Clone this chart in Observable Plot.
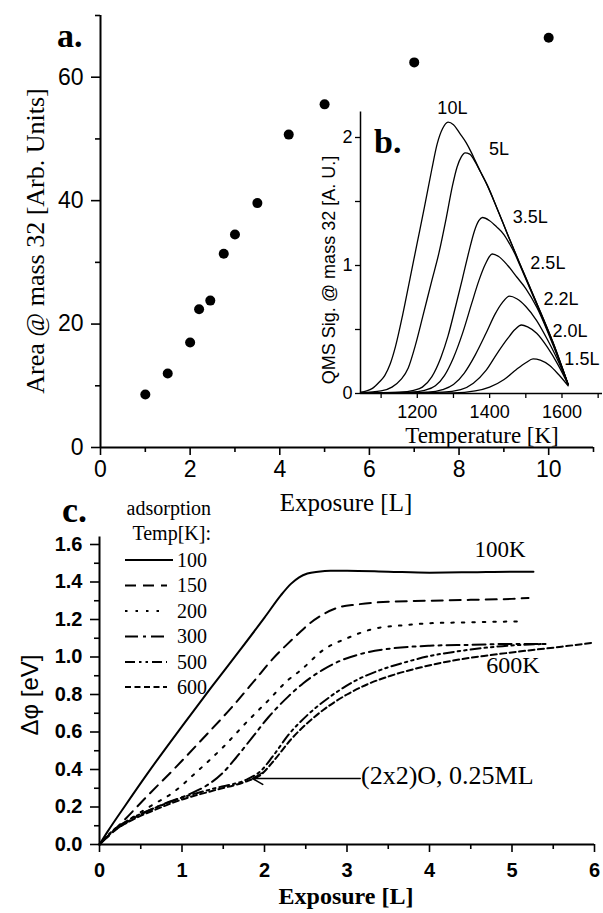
<!DOCTYPE html>
<html><head><meta charset="utf-8">
<script src="https://cdn.jsdelivr.net/npm/d3@7"></script>
<script src="https://cdn.jsdelivr.net/npm/@observablehq/plot@0.6"></script>
<style>
body{margin:0;background:#fff;}
#wrap{position:relative;width:603px;height:913px;overflow:hidden;background:#fff;}
#wrap > svg, #wrap > div{position:absolute;}
</style></head><body><div id="wrap"></div>
<script>
const SANS = "'Liberation Sans', Arial, Helvetica, sans-serif";
const SERIF = "'Liberation Serif', 'Times New Roman', Times, serif";

// ---------- Panel a: desorption area vs exposure ----------
const exposureA = [1, 1.5, 2, 2.2, 2.45, 2.75, 3, 3.5, 4.2, 5, 7, 10];
const areaA = [8.6, 12.0, 17.0, 22.4, 23.8, 31.4, 34.5, 39.6, 50.7, 55.6, 62.4, 66.4];
const aXTicks = [0, 2, 4, 6, 8, 10];
const aXMinor = [1, 3, 5, 7, 9, 11];
const aYTicks = [0, 20, 40, 60];
const aYMinor = [10, 30, 50, 70];

// ---------- Panel b: TPD spectra (T [K], signal) ----------
const tpdNames = ["10L", "5L", "3.5L", "2.5L", "2.2L", "2.0L", "1.5L"];
const tpd10 = [[1043,0.01],[1060,0.02],[1076,0.04],[1095,0.09],[1110,0.14],[1125,0.23],[1140,0.37],[1160,0.62],[1180,0.9],[1200,1.18],[1220,1.46],[1240,1.75],[1255,1.95],[1270,2.07],[1285,2.12],[1300,2.1],[1318,2.03],[1335,1.96],[1350,1.88],[1360,1.82],[1375,1.73],[1393,1.63],[1420,1.45],[1450,1.24],[1484,1.01],[1531,0.70],[1575,0.40],[1617,0.07]];
const tpd5 = [[1043,0.005],[1100,0.02],[1130,0.05],[1155,0.11],[1175,0.2],[1195,0.38],[1215,0.6],[1240,0.88],[1260,1.1],[1280,1.37],[1297,1.62],[1310,1.77],[1322,1.85],[1332,1.88],[1345,1.87],[1360,1.81],[1375,1.73],[1393,1.63],[1420,1.45],[1450,1.24],[1484,1.01],[1531,0.70],[1575,0.40],[1617,0.07]];
const tpd35 = [[1043,0.003],[1150,0.01],[1190,0.025],[1214,0.05],[1240,0.13],[1265,0.28],[1285,0.45],[1305,0.67],[1325,0.9],[1342,1.1],[1358,1.27],[1370,1.35],[1380,1.375],[1400,1.35],[1420,1.3],[1440,1.24],[1455,1.17],[1470,1.09],[1484,1.0],[1531,0.69],[1575,0.39],[1617,0.07]];
const tpd25 = [[1043,0.002],[1180,0.01],[1220,0.025],[1250,0.06],[1275,0.14],[1300,0.28],[1325,0.47],[1350,0.7],[1370,0.88],[1388,1.01],[1407,1.09],[1425,1.07],[1450,1.0],[1475,0.91],[1500,0.82],[1531,0.67],[1575,0.38],[1617,0.07]];
const tpd22 = [[1043,0.002],[1230,0.01],[1270,0.03],[1300,0.07],[1330,0.16],[1360,0.3],[1390,0.47],[1415,0.62],[1435,0.71],[1455,0.76],[1475,0.74],[1500,0.68],[1530,0.57],[1560,0.42],[1590,0.25],[1617,0.07]];
const tpd20 = [[1043,0.002],[1270,0.01],[1320,0.03],[1355,0.08],[1390,0.18],[1420,0.31],[1450,0.43],[1470,0.5],[1488,0.535],[1505,0.52],[1530,0.47],[1560,0.36],[1590,0.22],[1617,0.07]];
const tpd15 = [[1043,0.002],[1300,0.005],[1360,0.02],[1400,0.05],[1440,0.11],[1475,0.19],[1500,0.24],[1520,0.27],[1540,0.26],[1565,0.22],[1590,0.15],[1617,0.06]];
const tpdCurves = [tpd10, tpd5, tpd35, tpd25, tpd22, tpd20, tpd15];
const tpdLabelT = [1297, 1426, 1512, 1561, 1597, 1622, 1655];
const tpdLabelS = [2.23, 1.91, 1.38, 1.02, 0.74, 0.49, 0.27];
const bXTicks = [1200, 1400, 1600];
const bXMinor = [1100, 1300, 1500, 1700];
const bYTicks = [0, 1, 2];
const bYMinor = [0.5, 1.5];

// ---------- Panel c: work function change vs exposure ----------
const cTemps = ["100", "150", "200", "300", "500", "600"];
const c100x = [0,0.1,0.3,0.6,1.0,1.35,1.7,2.0,2.2,2.32,2.42,2.52,2.65,2.8,3.0,3.5,4.0,4.5,5.0,5.26];
const c100y = [0,0.07,0.2,0.39,0.63,0.835,1.035,1.21,1.33,1.39,1.425,1.445,1.455,1.46,1.46,1.455,1.45,1.452,1.455,1.455];
const c150x = [0,0.15,0.3,0.56,0.92,1.285,1.6,1.89,2.1,2.28,2.4,2.55,2.72,2.9,3.12,3.5,4.0,4.5,5.0,5.2];
const c150y = [0,0.065,0.13,0.25,0.41,0.58,0.73,0.88,0.99,1.07,1.12,1.18,1.23,1.265,1.28,1.295,1.3,1.305,1.31,1.315];
const c200x = [0,0.2,0.6,0.9,1.16,1.5,1.8,2.05,2.28,2.44,2.72,3.0,3.32,3.7,4.0,4.5,5.07];
const c200y = [0,0.08,0.2,0.28,0.38,0.52,0.66,0.77,0.875,0.93,1.04,1.1,1.15,1.17,1.18,1.185,1.19];
const c300x = [0,0.2,0.5,0.8,1.1,1.3,1.49,1.65,1.85,2.05,2.29,2.47,2.7,2.92,3.2,3.53,4.0,4.5,5.0,5.43];
const c300y = [0,0.08,0.16,0.22,0.27,0.315,0.38,0.46,0.57,0.68,0.79,0.86,0.93,0.98,1.02,1.045,1.06,1.065,1.07,1.07];
const c500x = [0,0.15,0.35,0.7,1.0,1.4,1.8,1.95,2.1,2.3,2.52,2.8,3.13,3.4,3.73,4.0,4.34,4.8,5.4];
const c500y = [0,0.07,0.13,0.2,0.25,0.3,0.35,0.39,0.47,0.59,0.69,0.79,0.88,0.93,0.975,1.005,1.03,1.055,1.07];
const c600x = [0,0.15,0.35,0.7,1.0,1.4,1.8,1.95,2.1,2.32,2.5,2.72,3.0,3.25,3.53,3.9,4.34,4.74,5.2,5.6,6.0];
const c600y = [0,0.065,0.12,0.19,0.24,0.29,0.34,0.37,0.44,0.56,0.64,0.72,0.8,0.855,0.9,0.945,0.985,1.01,1.035,1.055,1.077];
const cXs = [c100x, c150x, c200x, c300x, c500x, c600x];
const cYs = [c100y, c150y, c200y, c300y, c500y, c600y];
const cXTicks = [0, 1, 2, 3, 4, 5, 6];
const cXMinor = [0.5, 1.5, 2.5, 3.5, 4.5, 5.5];
const cYTicks = [0, 0.2, 0.4, 0.6, 0.8, 1.0, 1.2, 1.4, 1.6];
const cYMinor = [0.1, 0.3, 0.5, 0.7, 0.9, 1.1, 1.3, 1.5];
const arrowFromX = [3.16], arrowToX = [1.855], arrowAtY = [0.352];

// style only
const dashes = {"100": null, "150": "11,7", "200": "2.5,8", "300": "13,5,3,5", "500": "10,4,2.5,4,2.5,4", "600": "6,3.5"};

const wrap = document.getElementById("wrap");
function place(el, left, top) { el.style.left = left + "px"; el.style.top = top + "px"; wrap.appendChild(el); }

// ----- Panel a -----
const ptsA = exposureA.map((x, i) => ({x, y: areaA[i]}));
const pa = Plot.plot({
  width: 603, height: 510,
  marginLeft: 100, marginRight: 10, marginTop: 15, marginBottom: 63,
  x: {domain: [0, 11], label: null}, y: {domain: [0, 70], label: null},
  style: {fontFamily: SANS, fontSize: "23px", color: "black", background: "transparent", overflow: "visible"},
  marks: [
    Plot.axisY({ticks: aYTicks, tickSize: 9, tickPadding: 8, label: null, strokeWidth: 1.6}),
    Plot.axisY({ticks: aYMinor, tickSize: 5, tickFormat: () => "", label: null, strokeWidth: 1.6}),
    Plot.axisX({ticks: aXTicks, tickSize: 8, tickPadding: 5, label: null, strokeWidth: 1.6}),
    Plot.axisX({ticks: aXMinor, tickSize: 5, tickFormat: () => "", label: null, strokeWidth: 1.6}),
    Plot.ruleY([0], {strokeWidth: 2}),
    Plot.ruleX([0], {strokeWidth: 2}),
    Plot.dot(ptsA, {x: "x", y: "y", r: 5, fill: "black"})
  ]
});
place(pa, 0, 0);

// ----- Panel b (inset) -----
const tpdData = tpdCurves.flatMap((c, k) => c.map(([t, s]) => ({t, s, name: tpdNames[k]})));
const tpdLab = tpdNames.map((n, i) => ({t: tpdLabelT[i], s: tpdLabelS[i], n}));
const pb = Plot.plot({
  width: 323, height: 360,
  marginLeft: 80, marginRight: 1, marginTop: 16.4, marginBottom: 62,
  x: {domain: [1043, 1712], label: null}, y: {domain: [0, 2.2], label: null},
  style: {fontFamily: SANS, fontSize: "18px", color: "black", background: "transparent", overflow: "visible"},
  marks: [
    Plot.axisY({ticks: bYTicks, tickSize: 5, tickPadding: 3, tickFormat: d3.format("d"), label: null, strokeWidth: 1.3}),
    Plot.axisY({ticks: bYMinor, tickSize: 5, tickFormat: () => "", label: null, strokeWidth: 1.3}),
    Plot.axisX({ticks: bXTicks, tickSize: 5, tickPadding: 7, tickFormat: d3.format("d"), label: null, strokeWidth: 1.3}),
    Plot.axisX({ticks: bXMinor, tickSize: 5, tickFormat: () => "", label: null, strokeWidth: 1.3}),
    Plot.ruleY([0], {strokeWidth: 1.5}),
    Plot.ruleX([1043], {strokeWidth: 1.5}),
    Plot.line(tpdData, {x: "t", y: "s", z: "name", stroke: "black", strokeWidth: 1.3, curve: "monotone-x"}),
    Plot.text(tpdLab, {x: "t", y: "s", text: "n", fontSize: 18, fontFamily: SANS, fill: "black"})
  ]
});
place(pb, 280, 95);

// ----- Panel c -----
const cMarks = cTemps.map((T, k) => Plot.line(cXs[k].map((x, i) => ({x, y: cYs[k][i]})), {
  x: "x", y: "y", stroke: "black", strokeWidth: 2, strokeDasharray: dashes[T], curve: "monotone-x"
}));
const arrowData = arrowFromX.map((x1, i) => ({x1, x2: arrowToX[i], y: arrowAtY[i]}));
const pc = Plot.plot({
  width: 603, height: 408,
  marginLeft: 99, marginRight: 9, marginTop: 31.5, marginBottom: 69,
  x: {domain: [0, 6], label: null}, y: {domain: [0, 1.64], label: null},
  style: {fontFamily: SANS, fontSize: "20px", fontWeight: "bold", color: "black", background: "transparent", overflow: "visible"},
  marks: [
    Plot.axisY({ticks: cYTicks, tickSize: 9, tickPadding: 8, tickFormat: d3.format(".1f"), label: null, strokeWidth: 1.6}),
    Plot.axisY({ticks: cYMinor, tickSize: 5, tickFormat: () => "", label: null, strokeWidth: 1.6}),
    Plot.axisX({ticks: cXTicks, tickSize: 8, tickPadding: 10, tickFormat: d3.format("d"), label: null, strokeWidth: 1.6}),
    Plot.axisX({ticks: cXMinor, tickSize: 5, tickFormat: () => "", label: null, strokeWidth: 1.6}),
    Plot.ruleY([0], {strokeWidth: 2}),
    Plot.ruleX([0], {strokeWidth: 2}),
    ...cMarks,
    Plot.arrow(arrowData, {x1: "x1", y1: "y", x2: "x2", y2: "y", stroke: "black", strokeWidth: 1.6, headLength: 11})
  ]
});
place(pc, 0, 505);

// ----- Titles, panel letters, legend (overlay) -----
const legRowsY = [560, 585.5, 611, 636.5, 662, 687];
let leg = "";
cTemps.forEach((T, i) => {
  const y = legRowsY[i];
  const da = dashes[T] ? ` stroke-dasharray="${dashes[T]}"` : "";
  const x2 = T === "100" ? 173 : 167;
  leg += `<line x1="125" x2="${x2}" y1="${y}" y2="${y}" stroke="black" stroke-width="2"${da}/>`;
  leg += `<text x="207" y="${y + 6.5}" text-anchor="end" font-family="${SERIF}" font-size="20">${T}</text>`;
});
const ov = document.createElement("div");
ov.style.left = "0px"; ov.style.top = "0px";
ov.innerHTML = `<svg width="603" height="913" xmlns="http://www.w3.org/2000/svg" style="overflow:visible">
<g fill="black">
<text x="57" y="47" font-family="${SERIF}" font-size="34" font-weight="bold">a.</text>
<text transform="translate(35,241) rotate(-90)" text-anchor="middle" dominant-baseline="central" font-family="${SERIF}" font-size="26">Area @ mass 32 [Arb. Units]</text>
<text x="346" y="511" text-anchor="middle" font-family="${SERIF}" font-size="25">Exposure [L]</text>
<text x="374" y="153" font-family="${SERIF}" font-size="34" font-weight="bold">b.</text>
<text transform="translate(329,270) rotate(-90)" text-anchor="middle" dominant-baseline="central" font-family="${SANS}" font-size="18">QMS Sig. @ mass 32 [A. U.]</text>
<text x="482" y="443" text-anchor="middle" font-family="${SERIF}" font-size="23">Temperature [K]</text>
<text x="62" y="522" font-family="${SERIF}" font-size="36" font-weight="bold">c.</text>
<text x="211" y="515" text-anchor="end" font-family="${SERIF}" font-size="20">adsorption</text>
<text x="211" y="540" text-anchor="end" font-family="${SERIF}" font-size="20">Temp[K]:</text>
${leg}
<text x="500" y="557" text-anchor="middle" font-family="${SERIF}" font-size="23">100K</text>
<text x="513" y="673" text-anchor="middle" font-family="${SERIF}" font-size="24">600K</text>
<text x="361" y="784" font-family="${SERIF}" font-size="26">(2x2)O, 0.25ML</text>
<text transform="translate(29,695) rotate(-90)" text-anchor="middle" dominant-baseline="central" font-family="${SANS}" font-size="24">Δφ [eV]</text>
<text x="346" y="904" text-anchor="middle" font-family="${SERIF}" font-size="24" font-weight="bold">Exposure [L]</text>
</g></svg>`;
wrap.appendChild(ov);
</script></body></html>
